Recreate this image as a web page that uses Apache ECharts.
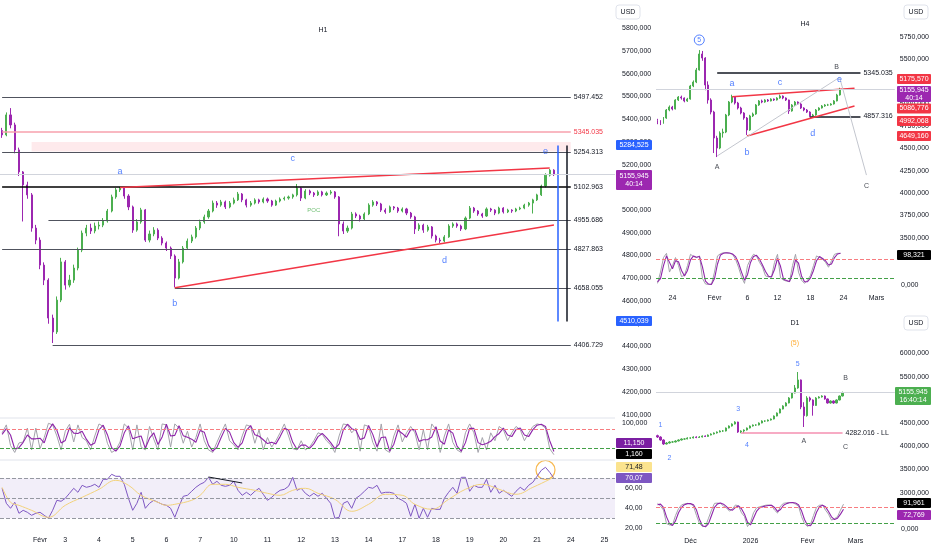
<!DOCTYPE html>
<html><head><meta charset="utf-8">
<script src="https://cdn.jsdelivr.net/npm/echarts@6/dist/echarts.min.js"></script>
<style>html,body{margin:0;padding:0;background:#fff}#c{width:932px;height:550px}</style>
</head><body><div id="c"></div>
<script>
// ---------------- H1 (main) ----------------
const h1Candles = [
[5350,5331,5318,5362],[5331,5419,5325,5430],[5419,5375,5360,5449],[5375,5265,5250,5385],[5265,5168,5150,5275],
[5168,5111,4950,5172],[5111,5067,5050,5125],[5067,4921,4905,5075],[4921,4868,4850,4935],[4868,4758,4740,4880],
[4758,4692,4670,4770],[4692,4525,4500,4700],[4525,4464,4415,4540],[4464,4604,4455,4620],[4604,4772,4595,4790],
[4772,4670,4650,4780],[4670,4692,4660,4715],[4692,4745,4680,4760],[4745,4824,4735,4835],[4824,4899,4815,4910],
[4899,4921,4885,4935],[4921,4908,4895,4940],[4908,4930,4898,4945],[4930,4934,4915,4950],[4934,4952,4925,4965],
[4952,4996,4945,5005],[4996,5058,4990,5068],[5058,5089,5050,5098],[5089,5097,5080,5102],[5097,5062,5050,5100],
[5062,5014,5000,5070],[5014,4912,4900,5020],[4912,4948,4905,4960],[4948,5001,4940,5010],[5001,4868,4860,5005],
[4868,4895,4858,4910],[4895,4912,4885,4925],[4912,4877,4868,4920],[4877,4855,4845,4885],[4855,4833,4820,4862],
[4833,4798,4785,4840],[4798,4701,4660,4805],[4701,4772,4695,4785],[4772,4833,4765,4842],[4833,4864,4825,4875],
[4864,4882,4855,4892],[4882,4921,4875,4930],[4921,4948,4912,4958],[4948,4970,4940,4980],[4970,4996,4962,5005],
[4996,5031,4990,5042],[5031,5022,5010,5040],[5022,5036,5015,5045],[5036,5014,5005,5042],[5014,5031,5008,5040],
[5031,5045,5025,5055],[5045,5071,5040,5080],[5071,5045,5035,5075],[5045,5022,5012,5050],[5022,5031,5015,5040],
[5031,5045,5025,5052],[5045,5036,5028,5050],[5036,5049,5030,5056],[5049,5040,5032,5055],[5040,5022,5015,5045],
[5022,5040,5018,5046],[5040,5049,5034,5056],[5049,5053,5042,5060],[5053,5058,5046,5064],[5058,5067,5050,5072],
[5067,5097,5060,5115],[5097,5053,5040,5100],[5053,5084,5048,5092],[5084,5075,5066,5090],[5075,5067,5058,5080],
[5067,5080,5062,5087],[5080,5067,5060,5085],[5067,5075,5062,5082],[5075,5080,5068,5088],[5080,5058,5050,5084],
[5058,4939,4885,5062],[4939,4908,4895,4950],[4908,4921,4900,4932],[4921,4983,4915,4992],[4983,4974,4965,4990],
[4974,4961,4950,4980],[4961,4983,4955,4990],[4983,5022,4978,5030],[5022,5036,5015,5044],[5036,5027,5018,5040],
[5027,5000,4992,5032],[5000,4992,4984,5008],[4992,5014,4988,5020],[5014,5009,5000,5018],[5009,4996,4988,5014],
[4996,5005,4990,5012],[5005,4987,4978,5010],[4987,4970,4962,4992],[4970,4917,4895,4975],[4917,4934,4908,4942],
[4934,4912,4900,4940],[4912,4926,4905,4935],[4926,4886,4875,4930],[4886,4868,4858,4892],[4868,4864,4855,4878],
[4864,4882,4858,4890],[4882,4930,4878,4938],[4930,4939,4922,4946],[4939,4930,4922,4945],[4930,4917,4908,4936],
[4917,4965,4912,4972],[4965,5009,4960,5018],[5009,4996,4988,5014],[4996,4983,4975,5000],[4983,4974,4966,4988],
[4974,5005,4970,5012],[5005,5000,4992,5010],[5000,4987,4978,5004],[4987,5009,4982,5015],[5009,4992,4985,5013],
[4992,5000,4987,5006],[5000,4996,4988,5004],[4996,5005,4991,5010],[5005,5009,5000,5015],[5009,5022,5004,5028],
[5022,5031,5015,5036],[5031,5045,4985,5050],[5045,5067,5040,5072],[5067,5106,5062,5112],[5106,5154,5100,5162],
[5154,5176,5148,5181],[5176,5156,5150,5180]
];
const h1StochK = [70,95,30,8,38,41,85,16,85,20,55,100,95,60,16,75,97,41,95,55,45,16,60,98,90,37,8,16,41,98,
85,16,95,25,16,90,50,16,98,95,25,98,85,37,75,25,55,98,45,16,8,40,70,98,45,32,16,60,95,90,
37,80,16,55,25,45,70,98,60,20,16,45,16,25,45,70,65,45,32,8,60,98,95,70,85,12,95,90,40,12,
98,16,8,60,95,41,70,90,70,16,80,16,98,80,8,60,98,40,16,8,70,98,70,8,55,16,70,45,90,80,
45,70,90,80,45,70,90,98,95,85,20,1];
const h1StochD = [65,83,63,19,23,40,63,51,51,53,38,78,98,78,38,46,86,69,68,75,50,31,38,79,94,64,23,12,29,70,
92,51,56,60,21,53,70,33,57,97,60,62,92,61,56,50,40,77,72,31,12,24,55,84,72,39,24,38,78,93,
64,59,48,36,40,35,58,84,79,40,18,31,31,21,35,58,68,55,39,20,34,79,97,83,78,49,54,93,65,26,
55,57,12,34,78,68,56,80,80,43,48,48,57,89,44,34,79,69,28,12,39,84,84,39,32,36,43,58,68,85,
63,58,80,85,63,58,80,94,97,90,45,11];
const h1Rsi = [60,45,40,46,35,38,36,33,35,36,33,30,38,48,47,50,55,60,56,63,61,62,64,61,69,69,74,72,72,64,
50,38,45,56,40,45,48,46,44,43,40,31,42,52,53,57,61,64,66,71,64,67,63,62,63,67,58,53,56,53,
57,60,54,48,51,55,58,59,62,71,58,60,55,52,55,52,55,50,45,30,31,45,47,40,50,53,57,61,60,63,
55,56,56,55,50,48,45,32,44,30,40,31,40,39,39,50,56,61,55,71,71,57,63,61,61,69,56,63,55,58,
55,52,57,61,58,63,66,72,78,81,76,70];
const h1RsiMa = [[0,61],[2,46],[4,43],[7,38],[11,31],[15,43],[19,51],[23,59],[27,68],[30,63],[33,53],[37,46],
[39,43],[41,44],[45,48],[47,53],[50,64],[53,64],[56,61],[60,58],[63,55],[66,53],[69,58],[72,60],[75,55],[79,49],
[83,37],[87,44],[91,54],[95,53],[98,44],[102,39],[106,49],[110,59],[114,64],[118,59],[122,54],[126,61],[130,69],[131,71.5]];
const h1TickIdx = [9,15,23,31,39,47,55,63,71,79,87,95,103,111,119,127,135,143];
const h1TickText = ['Févr','3','4','5','6','7','10','11','12','13','14','17','18','19','20','21','24','25'];
const h1LevelValues = [5497.452,5345.035,5254.313,5102.963,4955.686,4827.863,4658.055,4406.729];
const h1LevelStart = [0,0,0,0,11,0,41,12];
const h1WaveIdx = [28,41,69,105,129,74];
const h1WaveVal = [5168,4591,5229,4776,5260,5000];
const h1WaveText = ['a','b','c','d','e','POC'];

// ---------------- H4 ----------------
const h4Candles = [
[4810,4794,4770,4830],[4794,4783,4760,4815],[4783,4839,4775,4850],[4839,4929,4830,4940],[4929,4962,4915,4980],
[4962,4940,4925,4975],[4940,5041,4935,5050],[5041,5074,5030,5085],[5074,5063,5045,5090],[5063,5030,5015,5070],
[5030,5052,5020,5065],[5052,5198,5045,5210],[5198,5242,5185,5260],[5242,5377,5230,5400],[5377,5556,5370,5600],
[5556,5511,5480,5590],[5511,5209,5150,5520],[5209,5041,5000,5250],[5041,4906,4880,5060],[4906,4615,4447,4920],
[4615,4503,4402,4640],[4503,4671,4490,4690],[4671,4682,4620,4720],[4682,4873,4670,4885],[4873,5018,4860,5030],
[5018,5074,5005,5100],[5074,5007,4990,5085],[5007,4951,4935,5020],[4951,4895,4880,4965],[4895,4839,4820,4905],
[4839,4705,4649,4850],[4705,4862,4695,4875],[4862,4884,4850,4900],[4884,4985,4875,4995],[4985,5030,4975,5040],
[5030,5018,5005,5045],[5018,5041,5010,5050],[5041,5030,5020,5052],[5030,5052,5025,5060],[5052,5041,5030,5058],
[5041,5063,5035,5072],[5063,5085,5055,5102],[5085,5063,5050,5092],[5063,5041,5030,5070],[5041,4918,4885,5045],
[4918,4985,4910,4995],[4985,5018,4975,5030],[5018,4996,4985,5025],[4996,4951,4940,5005],[4951,4929,4915,4960],
[4929,4906,4895,4940],[4906,4862,4855,4915],[4862,4873,4855,4885],[4873,4929,4865,4940],[4929,4951,4920,4960],
[4951,4974,4945,4985],[4974,4985,4965,4995],[4985,4985,4975,4998],[4985,4996,4978,5005],[4996,5030,4990,5040],
[5030,5097,5025,5110],[5097,5156,5090,5178]
];
const h4StochK = [5,40,85,98,40,60,85,60,26,30,60,95,88,85,90,20,3,2,2,40,90,97,100,100,98,95,80,55,25,5,
60,80,95,90,70,55,28,25,25,70,95,22,15,12,10,60,95,40,15,5,15,30,60,90,85,80,70,55,75,95,98,98];
const h4StochD = [10,20,60,90,70,50,75,72,45,28,45,78,90,86,88,55,12,3,2,20,65,93,98,100,99,96,88,68,40,15,
32,70,88,92,80,62,42,27,25,48,82,58,18,14,11,35,78,68,28,10,10,22,45,75,88,82,75,62,65,85,96,98];
const h4TickIdx = [5,19,30,40,51,62,73];
const h4TickText = ['24','Févr','6','12','18','24','Mars'];
const h4WaveIdx = [25,30,41,52,61,20,60,70];
const h4WaveVal = [5220,4458,5242,4671,5265,4290,5410,4078];
const h4WaveText = ['a','b','c','d','e','A','B','C'];

// ---------------- D1 ----------------
const d1Candles = [
[4230,4200,4180,4250],[4200,4136,4120,4215],[4136,4050,4030,4150],[4050,4071,4040,4090],[4071,4093,4060,4110],
[4093,4093,4075,4115],[4093,4114,4085,4130],[4114,4136,4105,4150],[4136,4157,4125,4170],[4157,4157,4140,4175],
[4157,4179,4150,4195],[4179,4179,4160,4195],[4179,4200,4170,4215],[4200,4190,4175,4215],[4190,4200,4180,4220],
[4200,4222,4190,4235],[4222,4212,4200,4235],[4212,4243,4205,4255],[4243,4265,4235,4280],[4265,4287,4255,4300],
[4287,4308,4275,4320],[4308,4330,4300,4345],[4330,4330,4310,4350],[4330,4394,4320,4405],[4394,4437,4385,4450],
[4437,4480,4425,4495],[4480,4523,4470,4540],[4523,4308,4290,4530],[4308,4330,4282,4345],[4330,4351,4282,4365],
[4351,4394,4340,4405],[4394,4437,4385,4450],[4437,4459,4425,4470],[4459,4459,4440,4475],[4459,4502,4450,4515],
[4502,4545,4495,4560],[4545,4545,4525,4560],[4545,4566,4535,4580],[4566,4588,4555,4600],[4588,4652,4580,4665],
[4652,4717,4645,4730],[4717,4803,4710,4815],[4803,4869,4795,4885],[4869,4933,4860,4950],[4933,5041,4925,5060],
[5041,5149,5030,5170],[5149,5257,5140,5320],[5257,5430,5240,5601],[5430,4847,4800,5440],[4847,4660,4416,4950],
[4660,5041,4640,5080],[5041,4998,4960,5070],[4998,4880,4660,5010],[4880,5041,4870,5060],[5041,5063,5030,5080],
[5063,5084,5050,5100],[5084,5020,5005,5095],[5020,4933,4920,5030],[4933,4976,4920,4990],[4976,4933,4915,4990],
[4933,4998,4925,5010],[4998,5084,4990,5095],[5084,5156,5075,5178]
];
const d1StochK = [95,85,70,20,15,15,50,75,89,93,95,93,85,50,20,9,10,40,70,95,96,95,85,78,66,75,89,85,60,46,
9,25,60,78,82,85,88,89,88,70,59,85,95,97,98,98,92,85,46,20,9,18,50,80,88,89,70,55,33,38,46,70,92];
const d1StochD = [90,92,80,45,20,13,30,60,80,90,94,94,90,70,35,12,8,20,50,80,93,96,92,83,72,70,80,86,75,55,
25,15,40,65,78,82,85,87,88,80,65,72,88,94,97,98,96,90,68,35,14,12,30,62,82,88,82,65,45,35,40,55,73];
const d1TickIdx = [11,31,50,66];
const d1TickText = ['Déc','2026','Févr','Mars'];
const d1WaveIdx = [46,47,63,1,4,27,30,49,63];
const d1WaveVal = [6226,5774,5472,4459,3748,4804,4028,4114,3985];
const d1WaveText = ['(5)','5','B','1','2','3','4','A','C'];

const lastPrice = 5155.945;

// ---------------- build ----------------
const FONT = 'Liberation Sans, Arial, sans-serif';
const TXT = '#131722';
const UP = '#4caf50', DN = '#9c27b0';
function cats(n){const a=[];for(let i=0;i<n;i++)a.push('c'+i);return a;}
function xAx(g,n,ticks,texts,show,margin){
  return {type:'category',gridIndex:g,data:cats(n),boundaryGap:true,
    axisLine:{show:false},axisTick:{show:false},splitLine:{show:false},
    axisLabel:{show:show,margin:margin||6,fontSize:7,color:TXT,fontFamily:FONT,
      interval:(i)=>ticks.indexOf(i)>=0,
      formatter:(v,i)=>{const k=ticks.indexOf(i);return k>=0?texts[k]:'';}}};
}
function yAx(g,min,max,opt){
  return Object.assign({type:'value',gridIndex:g,position:'right',min:min,max:max,
    axisLine:{show:false},axisTick:{show:false},splitLine:{show:false},
    axisLabel:{fontSize:7,color:TXT,fontFamily:FONT,margin:6}},opt);
}
function seg(a,b,color,width,label){
  const p={coord:a,lineStyle:{color:color,width:width,type:'solid'},label:label?{show:true,position:'end',formatter:label,color:TXT,fontSize:7,fontFamily:FONT,distance:3}:{show:false}};
  return [p,{coord:b}];
}
const candleStyle={color:UP,color0:DN,borderColor:UP,borderColor0:DN,borderWidth:1};

const h1Lines = h1LevelValues.map((v,k)=>{
  let c='#50535e',w=1.2,lc=TXT;
  if(k===1){c='#f7a1ad';w=1.5;lc='#f23645';}
  if(k===3){c='#000000';w=1.6;}
  const s=seg([h1LevelStart[k],v],[135,v],c,w,v.toFixed(3));
  s[0].label.color=lc;
  return s;
});
h1Lines.push(seg([28,5100],[130,5185],'#f23645',1.5));
h1Lines.push(seg([41,4658],[131,4934],'#f23645',1.5));
h1Lines.push(seg([132,5284.525],[132,4510.039],'#2962ff',1.5));
h1Lines.push(seg([134,5284.525],[134,4510.039],'#131722',1.5));
h1Lines.push({yAxis:lastPrice,lineStyle:{color:'#d1d4dc',width:1,type:'solid'},label:{show:false}});

const stochML = {silent:true,symbol:['none','none'],label:{show:false},
  data:[{yAxis:80,lineStyle:{color:'#f77c80',type:'dashed',width:1}},{yAxis:20,lineStyle:{color:'#43a047',type:'dashed',width:1}}]};

function waves(idx,val,txt,colorFn,sizeFn){
  return idx.map((x,k)=>({value:[x,val[k],txt[k]],label:{color:colorFn(txt[k]),fontSize:sizeFn(txt[k])}}));
}
function waveSeries(xi,yi,data){
  return {type:'scatter',xAxisIndex:xi,yAxisIndex:yi,symbolSize:1,itemStyle:{color:'rgba(0,0,0,0)'},silent:true,z:20,
    label:{show:true,position:'inside',formatter:p=>p.value[2],fontFamily:FONT},data:data};
}

const option = {
  animation:false,
  textStyle:{fontFamily:FONT},
  grid:[
    {left:0,top:0,width:615,height:414.6},
    {left:0,top:418,width:615,height:42},
    {left:0,top:462,width:615,height:66.3},
    {left:656,top:0,width:240,height:237.6},
    {left:656,top:245,width:240,height:45},
    {left:656,top:335,width:240,height:157.7},
    {left:656,top:497,width:240,height:35}
  ],
  xAxis:[
    xAx(0,146,h1TickIdx,h1TickText,false),
    xAx(1,146,h1TickIdx,h1TickText,false),
    xAx(2,146,h1TickIdx,h1TickText,true,8),
    xAx(3,80,h4TickIdx,h4TickText,false),
    xAx(4,80,h4TickIdx,h4TickText,true,5),
    xAx(5,80,d1TickIdx,d1TickText,false),
    xAx(6,80,d1TickIdx,d1TickText,true,6)
  ],
  yAxis:[
    yAx(0,4100,5924.8,{interval:100,axisLabel:{fontSize:7,color:TXT,fontFamily:FONT,margin:7,formatter:v=>(v>5800||v%100!==0)?'':v+',000'}}),
    yAx(1,-15.8,116.7,{axisLabel:{fontSize:7,color:TXT,fontFamily:FONT,margin:7,customValues:[100],formatter:()=> '100,000'}}),
    yAx(2,20,86.3,{axisLabel:{fontSize:7,color:TXT,fontFamily:FONT,margin:10,customValues:[20,40,60],formatter:v=>v.toFixed(2).replace('.',',')}}),
    yAx(3,3500,6160.7,{interval:250,axisLabel:{fontSize:7,color:TXT,fontFamily:FONT,margin:5,formatter:v=>(v>5750||v%250!==0)?'':v+',000'}}),
    yAx(4,-15.5,123.8,{axisLabel:{fontSize:7,color:TXT,fontFamily:FONT,margin:5,customValues:[0],formatter:()=> '0,000'}}),
    yAx(5,3000,6398.7,{interval:500,axisLabel:{fontSize:7,color:TXT,fontFamily:FONT,margin:5,formatter:v=>(v%500!==0)?'':v+',000'}}),
    yAx(6,-11.1,118.5,{axisLabel:{fontSize:7,color:TXT,fontFamily:FONT,margin:5,customValues:[0],formatter:()=> '0,000'}})
  ],
  series:[
    {type:'candlestick',xAxisIndex:0,yAxisIndex:0,data:h1Candles,barWidth:1.6,itemStyle:candleStyle,
      markArea:{silent:true,itemStyle:{color:'rgba(247,82,95,0.12)'},data:[[{coord:[7,5300]},{coord:[135,5258]}]]},
      markLine:{silent:true,symbol:['none','none'],data:h1Lines}},
    waveSeries(0,0,waves(h1WaveIdx,h1WaveVal,h1WaveText,t=>t==='POC'?'#4caf50':'#2962ff',t=>t==='POC'?6:9)),
    {type:'line',xAxisIndex:1,yAxisIndex:1,data:h1StochK,showSymbol:false,lineStyle:{color:'#a3a3ab',width:1},markLine:stochML},
    {type:'line',xAxisIndex:1,yAxisIndex:1,data:h1StochD,showSymbol:false,lineStyle:{color:'#8e24aa',width:1.1}},
    {type:'line',xAxisIndex:2,yAxisIndex:2,data:h1Rsi,showSymbol:false,lineStyle:{color:'#7e57c2',width:1},
      markArea:{silent:true,itemStyle:{color:'rgba(126,87,194,0.1)'},data:[[{yAxis:30,x:0},{yAxis:70,x:615}]]},
      markLine:{silent:true,symbol:['none','none'],label:{show:false},data:[
        {yAxis:70,lineStyle:{color:'#9598a1',type:'dashed',width:1}},
        {yAxis:50,lineStyle:{color:'#9598a1',type:'dashed',width:1}},
        {yAxis:30,lineStyle:{color:'#9598a1',type:'dashed',width:1}},
        seg([49,71.3],[57,65.3],'#131722',1)]}},
    {type:'line',xAxisIndex:2,yAxisIndex:2,data:h1RsiMa,smooth:0.4,showSymbol:false,connectNulls:true,lineStyle:{color:'#f2d27c',width:1}},
    {type:'scatter',xAxisIndex:2,yAxisIndex:2,data:[[129,78.3]],symbolSize:19,silent:true,itemStyle:{color:'rgba(0,0,0,0)',borderColor:'#f5a623',borderWidth:1.2}},

    {type:'candlestick',xAxisIndex:3,yAxisIndex:3,data:h4Candles,barWidth:1.4,itemStyle:candleStyle,
      markLine:{silent:true,symbol:['none','none'],data:[
        seg([20,5345.035],[68,5345.035],'#131722',1.5,'5345.035'),
        seg([51,4857.316],[68,4857.316],'#131722',1.5,'4857.316'),
        seg([25,5078],[66,5172],'#f23645',1.5),
        seg([30,4638],[66,4974],'#f23645',1.5),
        seg([20,4414],[61,5295],'#c3c6ce',1),
        seg([61,5295],[70,4200],'#c3c6ce',1),
        {yAxis:lastPrice,lineStyle:{color:'#d1d4dc',width:1,type:'solid'},label:{show:false}}]}},
    waveSeries(3,3,waves(h4WaveIdx,h4WaveVal,h4WaveText,t=>t===t.toUpperCase()?TXT:'#2962ff',t=>t===t.toUpperCase()?7:9)),
    {type:'scatter',xAxisIndex:3,yAxisIndex:3,data:[[14,5713]],symbolSize:10,silent:true,
      itemStyle:{color:'#ffffff',borderColor:'#2962ff',borderWidth:1},
      label:{show:true,position:'inside',formatter:'5',color:'#2962ff',fontSize:7,fontFamily:FONT}},
    {type:'line',xAxisIndex:4,yAxisIndex:4,data:h4StochK,showSymbol:false,lineStyle:{color:'#a3a3ab',width:1},markLine:stochML},
    {type:'line',xAxisIndex:4,yAxisIndex:4,data:h4StochD,showSymbol:false,lineStyle:{color:'#8e24aa',width:1.1}},

    {type:'candlestick',xAxisIndex:5,yAxisIndex:5,data:d1Candles,barWidth:1.8,itemStyle:candleStyle,
      markLine:{silent:true,symbol:['none','none'],data:[
        seg([28,4282.016],[62,4282.016],'#f48fb1',1.5,'4282.016 - LL'),
        {yAxis:lastPrice,lineStyle:{color:'#d1d4dc',width:1,type:'solid'},label:{show:false}}]}},
    waveSeries(5,5,waves(d1WaveIdx,d1WaveVal,d1WaveText,t=>t==='(5)'?'#ff9800':(/[A-Z]/.test(t)?TXT:'#2962ff'),t=>7)),
    {type:'line',xAxisIndex:6,yAxisIndex:6,data:d1StochK,showSymbol:false,lineStyle:{color:'#a3a3ab',width:1},markLine:stochML},
    {type:'line',xAxisIndex:6,yAxisIndex:6,data:d1StochD,showSymbol:false,lineStyle:{color:'#8e24aa',width:1.1}}
  ]
};

function tag(x,y,w,h,bg,fg,text){
  return {type:'group',z:100,children:[
    {type:'rect',z:100,shape:{x:x,y:y,width:w,height:h,r:1},style:{fill:bg}},
    {type:'text',z:101,x:x+w/2,y:y+h/2,style:{text:text,fill:fg,font:'7px '+FONT,textAlign:'center',textVerticalAlign:'middle',align:'center',verticalAlign:'middle',lineHeight:8}}]};
}
function title(x,y,t){return {type:'text',z:100,x:x,y:y,style:{text:t,fill:TXT,font:'7px '+FONT,textAlign:'center',textVerticalAlign:'middle',align:'center',verticalAlign:'middle'}};}
function usd(x,y){return {type:'group',z:100,children:[
  {type:'rect',z:100,shape:{x:x,y:y,width:24,height:14,r:3},style:{fill:'#fff',stroke:'#e0e3eb',lineWidth:1}},
  {type:'text',z:101,x:x+12,y:y+7,style:{text:'USD',fill:TXT,font:'7px '+FONT,textAlign:'center',textVerticalAlign:'middle',align:'center',verticalAlign:'middle'}}]};}
function hsep(y,x1,x2){return {type:'line',z:5,shape:{x1:x1,y1:y,x2:x2,y2:y},style:{stroke:'#e0e3eb',lineWidth:1}};}

option.graphic = [
  hsep(418,0,615), hsep(460,0,615),
  title(323,30,'H1'), title(805,24,'H4'), title(795,323,'D1'),
  usd(616,5), usd(904,5), usd(904,316),
  tag(616,140,36,10,'#2962ff','#fff','5284,525'),
  tag(616,170,36,20,'#9c27b0','#fff','5155,945\n40:14'),
  tag(616,316,36,10,'#2962ff','#fff','4510,039'),
  tag(616,438,36,10,'#7b1fa2','#fff','11,150'),
  tag(616,449,36,10,'#000000','#fff','1,160'),
  tag(616,462,36,10,'#fbe38e','#131722','71,48'),
  tag(616,473,36,10,'#7e57c2','#fff','70,07'),
  tag(897,74,34,10,'#f23645','#fff','5175,570'),
  tag(897,86,34,16,'#9c27b0','#fff','5155,945\n40:14'),
  tag(897,103.5,34,10,'#f23645','#fff','5086,776'),
  tag(897,116,34,10,'#f23645','#fff','4992,068'),
  tag(897,131,34,10,'#f23645','#fff','4649,160'),
  tag(897,250,34,10,'#000000','#fff','98,321'),
  tag(895,387,36,18,'#4caf50','#fff','5155,945\n16:40:14'),
  tag(897,498,34,10,'#000000','#fff','91,961'),
  tag(897,510,34,10,'#9c27b0','#fff','72,769')
];

const chart = echarts.init(document.getElementById('c'),null,{renderer:'canvas'});
chart.setOption(option);
</script>
</body></html>
